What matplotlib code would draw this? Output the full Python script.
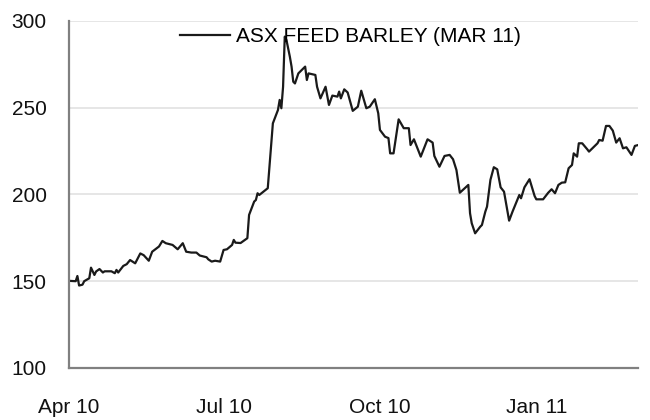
import matplotlib
matplotlib.use('Agg')
import matplotlib.pyplot as plt
import matplotlib.dates as mdates
import pandas as pd

plt.rcParams['font.family'] = ['Liberation Sans', 'DejaVu Sans']

#--- data
dates = ['2010-04-01', '2010-04-05', '2010-04-06', '2010-04-07', '2010-04-09', '2010-04-10',
         '2010-04-13', '2010-04-14', '2010-04-16', '2010-04-17', '2010-04-19', '2010-04-21',
         '2010-04-22', '2010-04-26', '2010-04-28', '2010-04-29', '2010-04-30', '2010-05-03',
         '2010-05-05', '2010-05-07', '2010-05-10', '2010-05-13', '2010-05-15', '2010-05-18',
         '2010-05-20', '2010-05-24', '2010-05-26', '2010-05-28', '2010-06-01', '2010-06-04',
         '2010-06-07', '2010-06-09', '2010-06-12', '2010-06-15', '2010-06-17', '2010-06-21',
         '2010-06-22', '2010-06-24', '2010-06-26', '2010-06-29', '2010-07-01', '2010-07-03',
         '2010-07-06', '2010-07-07', '2010-07-08', '2010-07-11', '2010-07-15', '2010-07-16',
         '2010-07-19', '2010-07-20', '2010-07-21', '2010-07-22', '2010-07-27', '2010-07-30',
         '2010-08-02', '2010-08-03', '2010-08-04', '2010-08-05', '2010-08-06', '2010-08-07',
         '2010-08-09', '2010-08-10', '2010-08-11', '2010-08-12', '2010-08-14', '2010-08-17',
         '2010-08-18', '2010-08-19', '2010-08-20', '2010-08-24', '2010-08-25', '2010-08-27',
         '2010-08-30', '2010-09-01', '2010-09-03', '2010-09-06', '2010-09-07', '2010-09-08',
         '2010-09-10', '2010-09-12', '2010-09-15', '2010-09-18', '2010-09-20', '2010-09-23',
         '2010-09-25', '2010-09-28', '2010-09-30', '2010-10-01', '2010-10-04', '2010-10-06',
         '2010-10-07', '2010-10-09', '2010-10-12', '2010-10-15', '2010-10-18', '2010-10-19',
         '2010-10-21', '2010-10-25', '2010-10-29', '2010-11-01', '2010-11-02', '2010-11-05',
         '2010-11-08', '2010-11-11', '2010-11-13', '2010-11-15', '2010-11-17', '2010-11-22',
         '2010-11-23', '2010-11-24', '2010-11-26', '2010-11-29', '2010-11-30', '2010-12-02',
         '2010-12-03', '2010-12-05', '2010-12-07', '2010-12-09', '2010-12-11', '2010-12-13',
         '2010-12-16', '2010-12-18', '2010-12-22', '2010-12-23', '2010-12-25', '2010-12-28',
         '2010-12-31', '2011-01-01', '2011-01-05', '2011-01-08', '2011-01-10', '2011-01-12',
         '2011-01-14', '2011-01-16', '2011-01-18', '2011-01-20', '2011-01-22', '2011-01-23',
         '2011-01-25', '2011-01-26', '2011-01-28', '2011-01-31', '2011-02-01', '2011-02-03',
         '2011-02-06', '2011-02-07', '2011-02-09', '2011-02-11', '2011-02-13', '2011-02-15',
         '2011-02-17', '2011-02-19', '2011-02-21', '2011-02-23', '2011-02-26', '2011-02-28',
         '2011-03-02']
barley = [150.2, 150, 153, 147.5, 148, 150,
          151.7, 157.8, 153.6, 155.6, 157, 155,
          155.7, 155.7, 154.6, 156.5, 155, 158.8,
          159.8, 162.2, 160.3, 166, 165, 161.8,
          167, 170, 173.2, 171.9, 170.9, 168.4,
          171.9, 167, 166.5, 166.5, 164.8, 163.8,
          162.6, 161.3, 161.8, 161.3, 168, 168.4,
          170.9, 173.8, 172.2, 172, 174.8, 188.2,
          195.9, 196.8, 200.7, 199.7, 203.6, 241,
          248.7, 254.5, 249.7, 262, 291, 289,
          279.4, 273.7, 265, 264, 269.8, 272.7,
          273.7, 266, 269.8, 268.9, 262.1, 255.4,
          262.1, 251.6, 257, 256.4, 259.3, 255.4,
          260.6, 258.8, 248.2, 250.6, 259.8, 249.7,
          250.6, 254.9, 246.8, 237.2, 233.3, 232.5,
          223.7, 223.7, 243.3, 238.2, 238.2, 228.5,
          231.8, 221.8, 231.8, 229.9, 222.2, 216,
          222.2, 222.8, 220.3, 214.1, 201, 205.5,
          189.2, 183.4, 177.6, 181.4, 182.4, 190.1,
          193, 208.4, 215.7, 214.5, 204.1, 201.6,
          184.9, 190.1, 199.7, 197.8, 204.1, 208.8,
          199.1, 197.2, 197.2, 201, 203, 200.7,
          205.5, 206.8, 207, 215.1, 217, 223.7,
          221.8, 229.5, 229.5, 226, 224.7, 226.6,
          229.5, 231.4, 231, 239.5, 239.5, 236.8,
          229.9, 232.4, 226.6, 227.2, 222.8, 228,
          228.5]
series_name = 'ASX FEED BARLEY (MAR 11)'
yticks = [100, 150, 200, 250, 300]

x = pd.to_datetime(dates)

fig = plt.figure(figsize=(6.5, 4.2), dpi=100)
ax = fig.add_axes([0.106, 0.124, 0.876, 0.826])

ax.plot(x, barley, color='#1a1a1a', linewidth=1.6, label=series_name)

ax.set_ylim(100, 300)
ax.set_yticks(yticks)
ax.set_xlim(pd.Timestamp('2010-04-01'), pd.Timestamp('2011-03-02'))
ax.xaxis.set_major_locator(mdates.MonthLocator(bymonth=[1, 4, 7, 10]))
ax.xaxis.set_major_formatter(mdates.DateFormatter('%b %y'))

ax.grid(True, axis='y', color='#e6e6e6', linewidth=1.4)
ax.set_axisbelow(True)
for s in ['top', 'right']:
    ax.spines[s].set_visible(False)
for s in ['left', 'bottom']:
    ax.spines[s].set_color('#808080')
    ax.spines[s].set_linewidth(1.6)

ax.tick_params(axis='y', length=0, pad=16, labelsize=15, labelcolor='#111111')
ax.tick_params(axis='x', length=0, pad=22, labelsize=15, labelcolor='#111111')

ax.legend(loc='center', bbox_to_anchor=(0.494, 0.954), frameon=False,
          fontsize=15, handlelength=2.4, handletextpad=0.3, borderpad=0)

fig.savefig('out.png', dpi=100)
